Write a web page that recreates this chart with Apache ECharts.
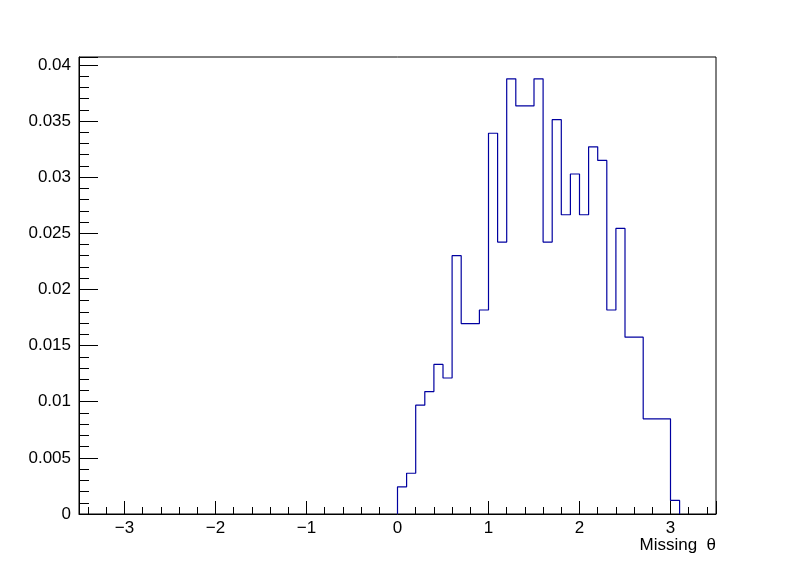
<!DOCTYPE html>
<html style="height: 100%">
<head>
    <meta charset="utf-8">
    <title>Missing theta</title>
    <script type="text/javascript" src="https://cdn.jsdelivr.net/npm/echarts@6/dist/echarts.min.js"></script>
</head>
<body style="height: 100%; margin: 0; background: #fff">
    <div id="container" style="width: 796px; height: 572px"></div>
    <script type="text/javascript">
        // 直方图数据：每个bin的左边界和高度
        var binWidth = 0.1;
        var binLow = [0.0, 0.1, 0.2, 0.3, 0.4, 0.5, 0.6, 0.7, 0.8, 0.9,
                      1.0, 1.1, 1.2, 1.3, 1.4, 1.5, 1.6, 1.7, 1.8, 1.9,
                      2.0, 2.1, 2.2, 2.3, 2.4, 2.5, 2.6, 2.7, 2.8, 2.9, 3.0];
        var binContent = [0.00242, 0.00363, 0.00969, 0.01090, 0.01332, 0.01211, 0.02301, 0.01696, 0.01696, 0.01817,
                          0.03391, 0.02422, 0.03876, 0.03634, 0.03634, 0.03876, 0.02422, 0.03512, 0.02665, 0.03028,
                          0.02665, 0.03270, 0.03149, 0.01817, 0.02543, 0.01575, 0.01575, 0.00848, 0.00848, 0.00848, 0.00121];
        var xRange = [-3.5, 3.5];
        var yMax = 0.0407;

        // 转成阶梯线的点
        var points = [[binLow[0], 0]];
        for (var i = 0; i < binLow.length; i++) {
            points.push([binLow[i], binContent[i]]);
        }
        points.push([binLow[binLow.length - 1] + binWidth, 0]);

        var font = '"Liberation Sans", Arial, sans-serif';

        var myChart = echarts.init(document.getElementById('container'));
        var option = {
            animation: false,
            backgroundColor: '#fff',
            grid: {
                left: 79,
                right: 80,
                top: 57,
                bottom: 58,
                show: true,
                borderColor: '#000',
                borderWidth: 1,
                backgroundColor: 'transparent'
            },
            xAxis: {
                type: 'value',
                min: xRange[0],
                max: xRange[1],
                splitNumber: 7,
                name: 'Missing  θ',
                nameLocation: 'end',
                nameGap: 0,
                nameTextStyle: {
                    color: '#000',
                    fontFamily: font,
                    fontSize: 17,
                    align: 'right',
                    verticalAlign: 'top',
                    padding: [23, 0, 0, 0]
                },
                axisLine: { onZero: false, lineStyle: { color: '#000', width: 1 } },
                axisTick: { inside: true, length: 13, lineStyle: { color: '#000' } },
                minorTick: { show: true, splitNumber: 5, length: 7, lineStyle: { color: '#000' } },
                splitLine: { show: false },
                axisLabel: {
                    color: '#000',
                    fontFamily: font,
                    fontSize: 17,
                    margin: 6,
                    showMinLabel: false,
                    showMaxLabel: false,
                    formatter: function (v) {
                        return v < 0 ? '\u2212' + Math.abs(v) : String(v);
                    }
                }
            },
            yAxis: {
                type: 'value',
                min: 0,
                max: yMax,
                interval: 0.005,
                axisLine: { show: true, onZero: false, lineStyle: { color: '#000', width: 1 } },
                axisTick: { show: true, inside: true, length: 19, lineStyle: { color: '#000' } },
                minorTick: { show: true, splitNumber: 5, length: 10, lineStyle: { color: '#000' } },
                splitLine: { show: false },
                axisLabel: {
                    color: '#000',
                    fontFamily: font,
                    fontSize: 17,
                    margin: 8,
                    showMaxLabel: false
                }
            },
            series: [{
                type: 'line',
                step: 'end',
                symbol: 'none',
                data: points,
                lineStyle: { color: '#0000a0', width: 1.2 },
                itemStyle: { color: '#0000a0' }
            }]
        };
        myChart.setOption(option);
    </script>
</body>
</html>
